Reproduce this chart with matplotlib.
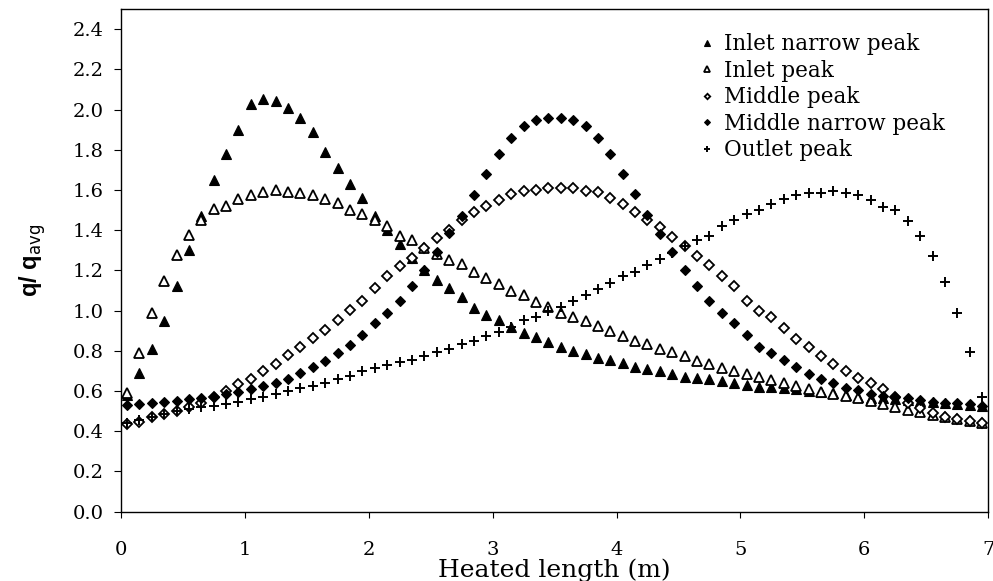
"""Axial heat flux shapes q/q_avg along the heated length."""

import numpy as np
import matplotlib
matplotlib.use("Agg")
import matplotlib.pyplot as plt

# node positions (m), 70 nodes over 7 m
heated_len = np.arange(70) * 0.1 + 0.05

inlet_narrow = [
    0.58, 0.69, 0.81, 0.95, 1.12, 1.30, 1.47, 1.65, 1.78, 1.90,
    2.03, 2.05, 2.04, 2.01, 1.96, 1.89, 1.79, 1.71, 1.63, 1.56,
    1.47, 1.40, 1.33, 1.26, 1.20, 1.15, 1.11, 1.07, 1.015, 0.98,
    0.954, 0.92, 0.89, 0.868, 0.843, 0.82, 0.80, 0.783, 0.766, 0.752,
    0.738, 0.722, 0.711, 0.70, 0.685, 0.67, 0.667, 0.66, 0.65, 0.641,
    0.63, 0.622, 0.618, 0.614, 0.61, 0.60, 0.597, 0.59, 0.58, 0.572,
    0.566, 0.563, 0.56, 0.555, 0.55, 0.545, 0.54, 0.535, 0.53, 0.525,
]
inlet_peak = [
    0.59, 0.79, 0.99, 1.145, 1.275, 1.375, 1.45, 1.505, 1.52, 1.555,
    1.575, 1.59, 1.60, 1.59, 1.585, 1.575, 1.555, 1.535, 1.50, 1.48,
    1.45, 1.42, 1.37, 1.35, 1.31, 1.28, 1.25, 1.23, 1.19, 1.16,
    1.13, 1.10, 1.08, 1.045, 1.02, 0.99, 0.967, 0.948, 0.924, 0.90,
    0.875, 0.85, 0.834, 0.81, 0.795, 0.775, 0.75, 0.735, 0.717, 0.70,
    0.685, 0.67, 0.655, 0.64, 0.625, 0.61, 0.595, 0.585, 0.575, 0.565,
    0.55, 0.535, 0.52, 0.505, 0.495, 0.48, 0.47, 0.46, 0.45, 0.44,
]
middle_peak = [
    0.436, 0.448, 0.47, 0.486, 0.50, 0.52, 0.54, 0.57, 0.60, 0.635,
    0.66, 0.70, 0.735, 0.78, 0.82, 0.865, 0.905, 0.955, 1.005, 1.05,
    1.11, 1.17, 1.22, 1.26, 1.31, 1.36, 1.40, 1.45, 1.49, 1.52,
    1.55, 1.58, 1.595, 1.60, 1.61, 1.61, 1.61, 1.595, 1.59, 1.56,
    1.53, 1.49, 1.45, 1.415, 1.365, 1.32, 1.27, 1.225, 1.17, 1.12,
    1.05, 1.00, 0.97, 0.915, 0.86, 0.82, 0.775, 0.735, 0.70, 0.665,
    0.64, 0.61, 0.57, 0.54, 0.514, 0.49, 0.47, 0.46, 0.453, 0.44,
]
middle_narrow = [
    0.53, 0.535, 0.54, 0.545, 0.55, 0.56, 0.565, 0.57, 0.585, 0.595,
    0.61, 0.625, 0.64, 0.66, 0.69, 0.72, 0.75, 0.79, 0.83, 0.88,
    0.94, 0.99, 1.05, 1.12, 1.20, 1.29, 1.385, 1.47, 1.575, 1.68,
    1.78, 1.86, 1.92, 1.95, 1.96, 1.96, 1.95, 1.92, 1.86, 1.78,
    1.68, 1.58, 1.476, 1.38, 1.29, 1.20, 1.12, 1.05, 0.99, 0.94,
    0.88, 0.82, 0.79, 0.755, 0.72, 0.685, 0.66, 0.64, 0.614, 0.605,
    0.586, 0.576, 0.57, 0.564, 0.556, 0.547, 0.54, 0.539, 0.534, 0.526,
]
outlet_peak = [
    0.44, 0.455, 0.47, 0.485, 0.50, 0.51, 0.52, 0.527, 0.537, 0.547,
    0.56, 0.572, 0.586, 0.60, 0.614, 0.625, 0.64, 0.66, 0.675, 0.70,
    0.713, 0.73, 0.743, 0.755, 0.776, 0.794, 0.81, 0.833, 0.85, 0.874,
    0.895, 0.92, 0.952, 0.97, 1.00, 1.02, 1.047, 1.08, 1.106, 1.136,
    1.17, 1.194, 1.227, 1.256, 1.285, 1.32, 1.35, 1.37, 1.42, 1.45,
    1.48, 1.50, 1.53, 1.554, 1.576, 1.584, 1.587, 1.597, 1.584, 1.576,
    1.55, 1.517, 1.50, 1.446, 1.37, 1.27, 1.144, 0.987, 0.796, 0.572,
]

plt.rcParams.update({
    "font.family": "serif",
    "font.serif": ["DejaVu Serif"],
    "axes.linewidth": 1.0,
    "xtick.direction": "out",
    "ytick.direction": "out",
})

fig = plt.figure(figsize=(9.93, 5.81), dpi=100)
fig.patch.set_facecolor("white")
ax = fig.add_axes([0.1216, 0.1193, 0.8737, 0.8652])

ax.plot(heated_len, inlet_narrow, ls="none", marker="^", ms=7.5,
        mfc="black", mec="black", mew=0.8, label="Inlet narrow peak")
ax.plot(heated_len, inlet_peak, ls="none", marker="^", ms=7.0,
        mfc="white", mec="black", mew=1.3, label="Inlet peak")
ax.plot(heated_len, middle_peak, ls="none", marker="D", ms=4.6,
        mfc="white", mec="black", mew=1.3, label="Middle peak")
ax.plot(heated_len, middle_narrow, ls="none", marker="D", ms=5.0,
        mfc="black", mec="black", mew=0.8, label="Middle narrow peak")
ax.plot(heated_len, outlet_peak, ls="none", marker="+", ms=7.0,
        mec="black", mew=1.4, label="Outlet peak")

ax.set_xlim(0, 7)
ax.set_ylim(0, 2.5)
ax.set_xticks(np.arange(0, 8, 1))
ax.set_yticks(np.arange(0, 2.41, 0.2))
ax.set_yticklabels([f"{v:.1f}" for v in np.arange(0, 2.41, 0.2)])
ax.tick_params(axis="x", labelsize=14, length=4, pad=17)
ax.tick_params(axis="y", labelsize=14, length=5, pad=7)

ax.set_xlabel("Heated length (m)", fontsize=18, labelpad=0)
ax.set_ylabel(r"q/ q$_{\mathrm{avg}}$", fontsize=17, fontweight="bold",
              family="Liberation Sans", labelpad=18)

ax.legend(loc="upper left", bbox_to_anchor=(0.6457, 0.9907), frameon=False,
          fontsize=15.5, markerscale=0.6, handlelength=0.6, handletextpad=0.5,
          labelspacing=0.21, borderaxespad=0.5)

fig.savefig("out.png", dpi=100, facecolor="white")
